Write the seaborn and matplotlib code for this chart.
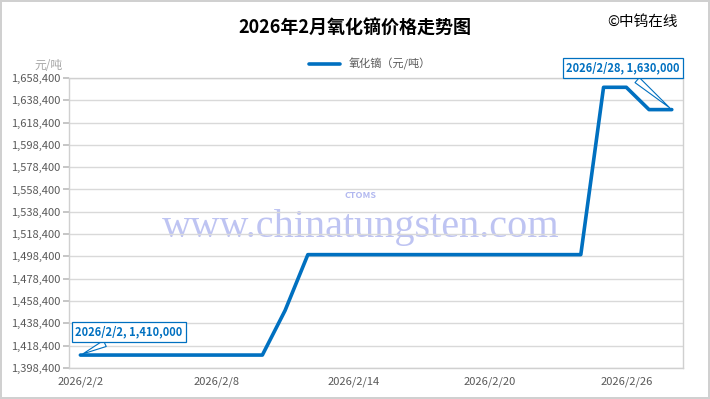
import matplotlib
matplotlib.use("Agg")
import matplotlib.pyplot as plt
import seaborn as sns
import pandas as pd

# ---- data ----
dates = pd.date_range("2026-02-02", "2026-02-28", freq="D")
prices = ([1410000] * 9 + [1450000] + [1500000] * 13 + [1650000] * 2 + [1630000] * 2)
series_name = "氧化镝（元/吨）"
title = "2026年2月氧化镝价格走势图"
y_ticks = list(range(1398400, 1658401, 20000))
x_tick_dates = ["2026-02-02", "2026-02-08", "2026-02-14", "2026-02-20", "2026-02-26"]
x_tick_labels = ["2026/2/2", "2026/2/8", "2026/2/14", "2026/2/20", "2026/2/26"]

df = pd.DataFrame({"date": dates, "price": prices, "series": series_name})

sns.set_theme(style="white")
plt.rcParams["font.family"] = ["Noto Sans CJK SC", "DejaVu Sans"]

BLUE = "#0070C0"
GRAY = "#595959"

fig = plt.figure(figsize=(7.1, 3.99), dpi=100)
fig.patch.set_facecolor("white")
fig.patch.set_edgecolor("#D0D0D0")
fig.patch.set_linewidth(1.5)
ax = fig.add_axes([0.0972, 0.0777, 0.865, 0.727])

sns.lineplot(data=df, x="date", y="price", hue="series", palette=[BLUE],
             linewidth=2.6, ax=ax, legend=True)

ax.set_ylim(1398400, 1658400)
ax.set_yticks(y_ticks)
ax.set_yticklabels([f"{v:,}" for v in y_ticks], fontsize=8, color=GRAY)
ax.set_xlim(pd.Timestamp("2026-02-01 12:00"), pd.Timestamp("2026-02-28 12:00"))
ax.set_xticks([pd.Timestamp(d) for d in x_tick_dates])
ax.set_xticklabels(x_tick_labels, fontsize=8, color=GRAY)
ax.tick_params(axis="x", length=0, pad=6)
ax.tick_params(axis="y", length=4, color="#BFBFBF", pad=2, left=True, direction="out")
ax.yaxis.grid(True, color="#D9D9D9", linewidth=1)
ax.xaxis.grid(False)
for s in ax.spines.values():
    s.set_color("#D0D0D0")
    s.set_linewidth(1)
ax.set_xlabel("")
ax.set_ylabel("")

leg = ax.legend(loc="lower center", bbox_to_anchor=(0.49, 1.0), frameon=False,
                fontsize=8, handlelength=2.8, borderaxespad=0.3)
for t in leg.get_texts():
    t.set_color(GRAY)

fig.text(0.5, 0.93, title, ha="center", va="center", fontsize=13, fontweight="bold", color="#000000")
fig.text(0.955, 0.945, "©中钨在线", ha="right", va="center", fontsize=10.5, color="#000000")
fig.text(0.088, 0.835, "元/吨", ha="right", va="center", fontsize=8.5, color="#A6A6A6")

# watermark
ax.text(0.475, 0.485, "www.chinatungsten.com", transform=ax.transAxes, ha="center", va="center",
        fontsize=29, family="Liberation Serif", color="#A9B0EE", alpha=0.75, zorder=0)
ax.text(0.475, 0.595, "CTOMS", transform=ax.transAxes, ha="center", va="center",
        fontsize=6.5, fontstyle="italic", fontweight="bold", color="#A9B0EE", alpha=0.9, zorder=0)

# callouts
box = dict(boxstyle="square,pad=0.3", fc="white", ec=BLUE, lw=0.9)
arrow = dict(arrowstyle="wedge,tail_width=0.6,shrink_factor=0.5", fc="white", ec=BLUE, lw=0.8)
ax.annotate(f"2026/2/2, {prices[0]:,}", xy=(dates[0], prices[0]), xytext=(129, 67),
            textcoords="figure pixels", ha="center", va="center", fontsize=8, fontweight="bold",
            color=BLUE, bbox=box, arrowprops=arrow, zorder=5)
ax.annotate(f"2026/2/28, {prices[-1]:,}", xy=(dates[-1], prices[-1]), xytext=(623, 331),
            textcoords="figure pixels", ha="center", va="center", fontsize=8, fontweight="bold",
            color=BLUE, bbox=box, arrowprops=arrow, zorder=5)

fig.savefig("out.png", dpi=100)
